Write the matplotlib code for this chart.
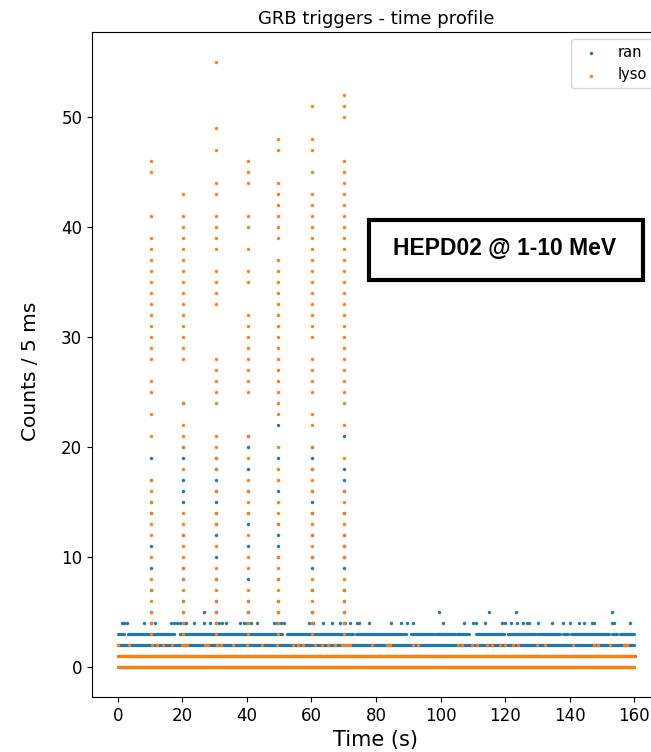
import matplotlib
matplotlib.use("Agg")
import matplotlib.pyplot as plt
from matplotlib.collections import LineCollection
from matplotlib.patches import Rectangle

# ---------------- data ----------------
burst_times = [10.3, 20.2, 30.4, 40.3, 49.6, 60.2, 70.1]

lyso_burst_counts = [
    [46, 45, 41, 39, 38, 37, 36, 35, 34, 33, 32, 31, 30, 29, 28, 26, 25, 23, 21,
     17, 16, 15, 14, 13, 12, 10, 8, 7, 6, 5, 4, 3],
    [43, 41, 40, 39, 38, 37, 36, 35, 34, 33, 32, 31, 30, 29, 28, 24, 22, 21, 20,
     18, 14, 13, 12, 11, 10, 9, 8, 7, 6, 5, 4, 3],
    [55, 49, 47, 44, 43, 41, 40, 39, 38, 36, 35, 34, 33, 28, 27, 26, 25, 24, 21,
     20, 19, 18, 16, 14, 13, 11, 9, 8, 7, 6, 5, 4, 3],
    [46, 45, 44, 41, 40, 38, 36, 35, 32, 31, 30, 29, 28, 27, 26, 25, 21, 19, 17,
     16, 15, 14, 12, 10, 9, 7, 6, 5, 4, 3],
    [48, 47, 44, 43, 42, 41, 40, 39, 37, 36, 35, 34, 33, 32, 31, 30, 29, 28, 27,
     26, 25, 24, 23, 20, 18, 17, 15, 14, 13, 10, 9, 8, 7, 6, 5, 4, 3],
    [51, 48, 47, 45, 43, 42, 41, 40, 39, 38, 37, 36, 35, 34, 33, 32, 31, 30, 28,
     27, 26, 25, 23, 22, 20, 18, 17, 16, 14, 13, 12, 11, 10, 8, 7, 6, 5, 4, 3],
    [52, 51, 50, 46, 45, 44, 43, 42, 41, 40, 39, 38, 37, 36, 35, 34, 33, 32, 31,
     30, 29, 28, 27, 26, 25, 24, 22, 19, 16, 15, 14, 13, 12, 11, 10, 8, 7, 6, 5,
     4, 3],
]

ran_burst_counts = [
    [19, 11, 9, 14, 15, 17, 7, 5, 4],
    [24, 20, 19, 17, 16, 15, 12, 9, 8, 6, 5, 4],
    [17, 15, 12, 10, 19, 18, 16, 14, 13, 8, 6, 5, 4],
    [20, 18, 13, 11, 8, 21, 16, 14, 6, 5, 4],
    [22, 19, 16, 12, 11, 13, 10, 8, 6, 5, 4],
    [19, 15, 9, 20, 18, 16, 14, 12, 10, 7, 5, 4],
    [21, 18, 17, 9, 16, 14, 12, 11, 10, 7, 6, 5, 4],
]

# runs of consecutive 5 ms bins sharing the same count: (count, start s, end s)
ran_run_counts = [0, 1, 2,
                  3, 3, 3, 3, 3, 3, 3, 3, 3, 3, 3, 3, 3, 3, 3, 3]
ran_run_starts = [0.0, 0.0, 0.0,
                  0.0, 3.3, 19.3, 52.3, 73.8, 90.7, 98.3, 105.0, 107.3, 111.0,
                  121.0, 129.8, 137.9, 140.4, 153.1, 155.7]
ran_run_ends = [160.0, 160.3, 160.0,
                1.8, 17.3, 50.8, 72.9, 89.3, 97.6, 104.5, 106.9, 108.9, 119.7,
                129.3, 137.1, 139.6, 152.3, 154.8, 160.0]

lyso_run_counts = [0, 1]
lyso_run_starts = [0.0, 0.0]
lyso_run_ends = [160.0, 160.0]

ran_count4_times = [1.2, 2.0, 3.0, 8.0, 10.3, 11.5, 16.4, 17.4, 18.4, 19.4, 20.4,
                    21.2, 23.5, 26.6, 28.6, 30.4, 31.5, 32.4, 33.6, 38.0, 39.0,
                    40.0, 41.3, 43.0, 48.4, 49.4, 50.5, 51.6, 59.3, 60.5, 63.7,
                    66.3, 69.0, 70.3, 72.0, 74.1, 74.6, 77.8, 84.7, 87.7, 89.7,
                    91.4, 100.7, 107.4, 110.2, 110.9, 113.7, 119.2, 120.0, 121.8,
                    123.6, 125.5, 126.9, 127.3, 130.1, 134.6, 138.1, 140.1, 142.9,
                    144.5, 147.0, 147.7, 153.1, 153.9, 158.6]
ran_count5_times = [26.8, 60.2, 99.4, 115.0, 123.4, 153.1]

lyso_count2_times = [0.0, 3.5, 10.5, 12.0, 14.0, 16.7, 19.8, 20.6, 21.4, 27.0,
                     28.0, 30.7, 32.1, 35.8, 39.9, 44.6, 49.2, 54.4, 55.9, 57.5,
                     61.1, 63.2, 65.2, 67.3, 69.4, 70.2, 71.0, 72.0, 78.7, 83.3,
                     84.3, 91.4, 93.1, 105.5, 106.6, 109.7, 111.2, 114.3, 115.9,
                     118.4, 120.0, 122.4, 124.1, 129.8, 132.4, 141.2, 147.4,
                     148.9, 152.6, 156.7, 157.7]

series_labels = ["ran", "lyso"]
title_text = "GRB triggers - time profile"
box_text = "HEPD02 @ 1-10 MeV"

# ---------------- drawing ----------------
C_RAN = "#1f77b4"
C_LYSO = "#ff7f0e"
S = 6
RUN_LW = 2.3

fig = plt.figure(figsize=(6.51, 7.52), dpi=100)
ax = fig.add_axes([0.1413, 0.0731, 0.8725, 0.8843])


def draw_runs(counts, starts, ends, color, z):
    segs = [[(s, c), (e, c)] for c, s, e in zip(counts, starts, ends) if e > s]
    lc = LineCollection(segs, colors=color, linewidths=RUN_LW,
                        capstyle="round", zorder=z)
    ax.add_collection(lc)


# ran series
draw_runs(ran_run_counts, ran_run_starts, ran_run_ends, C_RAN, 2)
rx, ry = [], []
for t, cs in zip(burst_times, ran_burst_counts):
    rx += [t] * len(cs)
    ry += cs
rx += ran_count4_times
ry += [4] * len(ran_count4_times)
rx += ran_count5_times
ry += [5] * len(ran_count5_times)
h_ran = ax.scatter(rx, ry, s=S, color=C_RAN, linewidths=0, zorder=2,
                   label=series_labels[0])

# lyso series
draw_runs(lyso_run_counts, lyso_run_starts, lyso_run_ends, C_LYSO, 3)
lx, ly = [], []
for t, cs in zip(burst_times, lyso_burst_counts):
    lx += [t] * len(cs)
    ly += cs
lx += lyso_count2_times
ly += [2] * len(lyso_count2_times)
h_lyso = ax.scatter(lx, ly, s=S, color=C_LYSO, linewidths=0, zorder=3,
                    label=series_labels[1])

ax.set_xlim(-8, 168)
ax.set_ylim(-2.75, 57.75)
ax.set_xticks(range(0, 161, 20))
ax.set_yticks(range(0, 51, 10))
ax.tick_params(labelsize=12)

ax.set_title(title_text, fontsize=13)
ax.set_xlabel("Time (s)", fontsize=15)
ax.set_ylabel("Counts / 5 ms", fontsize=14.5)
ax.yaxis.set_label_coords(-0.092, 0.49)

ax.legend(handles=[h_ran, h_lyso], loc="upper right", fontsize=10.5)

ax.add_patch(Rectangle((0.4871, 0.6266), 0.9701 - 0.4871, 0.7177 - 0.6266,
                       transform=ax.transAxes, fill=True, facecolor="white",
                       edgecolor="black", linewidth=3, zorder=5))
ax.text(0.7271, 0.6647, box_text, transform=ax.transAxes, ha="center",
        va="baseline", fontsize=16.5, fontweight="bold",
        family=["Liberation Sans", "DejaVu Sans"], zorder=6)

fig.savefig("out.png", dpi=100)
